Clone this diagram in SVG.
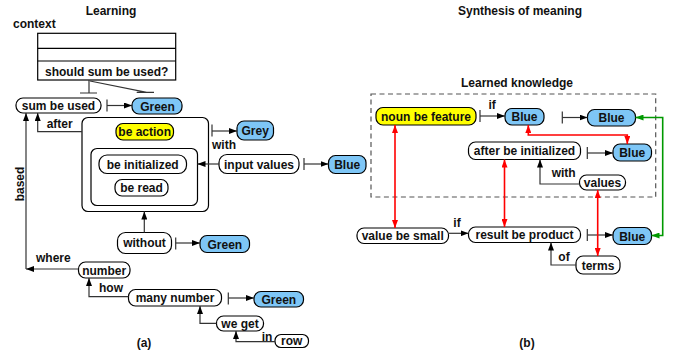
<svg xmlns="http://www.w3.org/2000/svg" width="677" height="354" viewBox="0 0 677 354">
<style>
text{font-family:"Liberation Sans",Arial,sans-serif;font-weight:bold;font-size:12px;fill:#111}
.c{text-anchor:middle}
.n{fill:#fff;stroke:#000;stroke-width:1.2}
.b{fill:#7ec6f6;stroke:#000;stroke-width:1.2}
.y{fill:#ffff00;stroke:#000;stroke-width:1.2}
.box{fill:none;stroke:#000;stroke-width:1.2}
.e{fill:none;stroke:#333;stroke-width:1.2}
.ea{fill:none;stroke:#333;stroke-width:1.2;marker-end:url(#ak)}
.r{fill:none;stroke:#f00;stroke-width:1.6;marker-start:url(#ar);marker-end:url(#ar)}
.g{fill:none;stroke:#090;stroke-width:1.6;marker-start:url(#ag);marker-end:url(#ag)}
</style>
<defs>
<marker id="ak" markerUnits="userSpaceOnUse" markerWidth="8" markerHeight="6" refX="8" refY="3" orient="auto-start-reverse"><path d="M0,0L8,3L0,6z" fill="#000"/></marker>
<marker id="ar" markerUnits="userSpaceOnUse" markerWidth="8" markerHeight="6" refX="8" refY="3" orient="auto-start-reverse"><path d="M0,0L8,3L0,6z" fill="#f00"/></marker>
<marker id="ag" markerUnits="userSpaceOnUse" markerWidth="8" markerHeight="6" refX="8" refY="3" orient="auto-start-reverse"><path d="M0,0L8,3L0,6z" fill="#090"/></marker>
</defs>
<rect width="677" height="354" fill="#fff"/>

<!-- titles and labels -->
<text class="c" x="111" y="15">Learning</text>
<text x="13" y="28">context</text>
<text class="c" x="520" y="15">Synthesis of meaning</text>
<text class="c" x="517" y="86.5">Learned knowledge</text>
<text class="c" x="144" y="346.5">(a)</text>
<text class="c" x="527" y="346.5">(b)</text>
<text x="46.7" y="127.5">after</text>
<text x="212" y="149">with</text>
<text x="36" y="261.5">where</text>
<text x="99" y="291.5">how</text>
<text x="261.7" y="340.5">in</text>
<text class="c" transform="translate(23.5,184) rotate(-90)">based</text>
<text x="488.5" y="108.5">if</text>
<text x="551.7" y="176.5">with</text>
<text x="453.3" y="226.5">if</text>
<text x="558.3" y="260.5">of</text>

<!-- learning side nodes -->
<g id="context">
<rect class="box" x="37.7" y="33.3" width="138" height="46.7"/>
<line class="box" x1="37.7" y1="48.3" x2="175.7" y2="48.3"/>
<line class="box" x1="37.7" y1="61" x2="175.7" y2="61"/>
<text x="45" y="76">should sum be used?</text>
</g>
<g id="sum-be-used"><rect class="n" x="16" y="98" width="85" height="15" rx="7"/><text class="c" x="58.5" y="109.5">sum be used</text></g>
<g id="green1"><rect class="b" x="132" y="98" width="50" height="16" rx="7"/><text class="c" x="157.5" y="110.5">Green</text></g>
<g id="action-group"><rect class="box" x="82" y="117.5" width="126.5" height="94" rx="6"/></g>
<g id="be-action"><rect class="y" x="116" y="123.5" width="57.5" height="16.5" rx="7"/><text class="c" x="144.7" y="135.7">be action</text></g>
<g id="grey"><rect class="b" x="237" y="121" width="36.5" height="19" rx="7"/><text class="c" x="255.2" y="135">Grey</text></g>
<g id="inner-group"><rect class="box" x="91" y="148.5" width="106.5" height="57" rx="6"/></g>
<g id="be-initialized"><rect class="n" x="99" y="155" width="87.5" height="18.5" rx="8"/><text class="c" x="142.7" y="168.8">be initialized</text></g>
<g id="be-read"><rect class="n" x="115" y="179.5" width="53" height="16.5" rx="7"/><text class="c" x="141.5" y="191.5">be read</text></g>
<g id="input-values"><rect class="n" x="219" y="154.5" width="80" height="19" rx="8"/><text class="c" x="259" y="168.5">input values</text></g>
<g id="blue-a"><rect class="b" x="328.5" y="155.5" width="37.5" height="18" rx="7"/><text class="c" x="347.2" y="169">Blue</text></g>
<g id="without"><rect class="n" x="117.5" y="232.5" width="54" height="21" rx="8"/><text class="c" x="144.5" y="247">without</text></g>
<g id="green2"><rect class="b" x="200" y="235.5" width="49.5" height="17" rx="7"/><text class="c" x="224.8" y="248.5">Green</text></g>
<g id="number"><rect class="n" x="78.5" y="262" width="51.5" height="16" rx="7"/><text class="c" x="104.2" y="274.5">number</text></g>
<g id="many-number"><rect class="n" x="128.5" y="289.5" width="93" height="16.5" rx="7"/><text class="c" x="175" y="301.5">many number</text></g>
<g id="green3"><rect class="b" x="254" y="291.5" width="49.5" height="15.5" rx="7"/><text class="c" x="278.8" y="303.8">Green</text></g>
<g id="we-get"><rect class="n" x="216.5" y="316" width="47" height="15" rx="7"/><text class="c" x="240" y="327.5">we get</text></g>
<g id="row"><rect class="n" x="275" y="334.5" width="33.5" height="13" rx="6"/><text class="c" x="291.7" y="345">row</text></g>

<!-- synthesis side nodes -->
<g id="learned-knowledge"><rect x="371" y="94" width="284.7" height="103" fill="none" stroke="#555" stroke-width="1.2" stroke-dasharray="5,3.5"/></g>
<g id="noun-be-feature"><rect class="y" x="376" y="107.5" width="100" height="17.5" rx="7"/><text class="c" x="426" y="120.5">noun be feature</text></g>
<g id="blue1"><rect class="b" x="505" y="108.5" width="39" height="16.5" rx="7"/><text class="c" x="524.5" y="121">Blue</text></g>
<g id="blue2"><rect class="b" x="587.5" y="109.5" width="48" height="16.5" rx="7"/><text class="c" x="611.5" y="122">Blue</text></g>
<g id="after-be-initialized"><rect class="n" x="468.5" y="142" width="112" height="17.5" rx="7" stroke-width="2"/><text class="c" x="524.5" y="154.5">after be initialized</text></g>
<g id="blue3"><rect class="b" x="613" y="144" width="38.5" height="17" rx="7"/><text class="c" x="632.2" y="157">Blue</text></g>
<g id="values"><rect class="n" x="579.5" y="175" width="46" height="15" rx="7"/><text class="c" x="602.5" y="187">values</text></g>
<g id="value-be-small"><rect class="n" x="357" y="228" width="91.5" height="15.5" rx="7"/><text class="c" x="402.7" y="239.5">value be small</text></g>
<g id="result-be-product"><rect class="n" x="468.5" y="227" width="112" height="15.5" rx="7"/><text class="c" x="524.5" y="238.5">result be product</text></g>
<g id="blue4"><rect class="b" x="613" y="227.5" width="38.5" height="17" rx="7"/><text class="c" x="632.2" y="240.5">Blue</text></g>
<g id="terms"><rect class="n" x="576" y="256" width="44" height="18" rx="7"/><text class="c" x="598" y="270">terms</text></g>

<!-- connectors -->
<g id="connectors">
<path class="e" d="M89,80V93M80,93H97"/>
<path class="e" d="M90,81L146.7,92.3M136.7,92.3H154"/>
<path class="e" d="M107,99.5V111.5"/><path class="ea" d="M107,105.5H132"/>
<path class="ea" d="M82,131.7H37.7V113"/>
<path class="ea" d="M78.5,269H26"/><path class="ea" d="M26,269V113"/>
<path class="e" d="M212,124.5V136.5"/><path class="ea" d="M212,131H237"/>
<path class="ea" d="M219,164H197.5"/>
<path class="e" d="M304,158V170"/><path class="ea" d="M304,164H328.5"/>
<path class="ea" d="M144.3,232.5V211.5"/>
<path class="e" d="M175.7,237.5V249.5"/><path class="ea" d="M175.7,243H200"/>
<path class="ea" d="M128.5,296.7H89V278"/>
<path class="e" d="M228.3,292.5V304.5"/><path class="ea" d="M228.3,298H254"/>
<path class="ea" d="M216.5,323.3H200V306"/>
<path class="ea" d="M275,341.7H236V331"/>

<path class="e" d="M480,110V122"/><path class="ea" d="M480,116H505"/>
<path class="e" d="M562.3,111.5V123.5"/><path class="ea" d="M562.3,117.5H587.5"/>
<path class="e" d="M587.3,147V159"/><path class="ea" d="M587.3,153H613"/>
<path class="ea" d="M579.5,184H540V159.5"/>
<path class="ea" d="M448.5,233.3H468.5"/>
<path class="e" d="M587.3,229V241"/><path class="ea" d="M587.3,235H613"/>
<path class="ea" d="M576,265H551V242.5"/>

<path class="r" d="M395,125V228"/>
<path class="r" d="M504.5,159.5V227"/>
<path class="r" d="M597.7,190V256"/>
<path class="r" d="M528.3,125V135H627.3V144"/>
<path class="g" d="M635.5,117.5H662.7V235.5H651.5"/>
</g>
</svg>
